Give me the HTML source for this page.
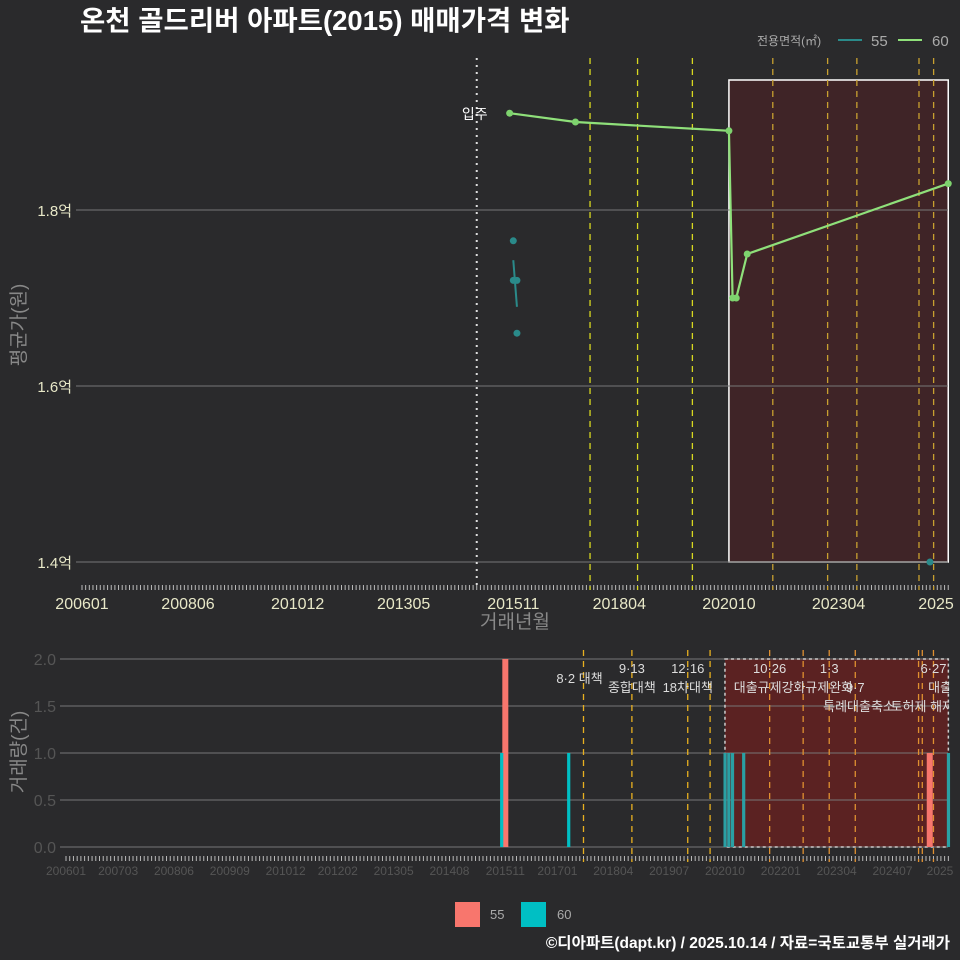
<!DOCTYPE html>
<html><head><meta charset="utf-8"><style>
body{margin:0;background:#2a2a2c;}
svg{display:block;font-family:"Liberation Sans","Noto Sans CJK KR",sans-serif;}
</style></head><body>
<svg id="c" width="960" height="960" viewBox="0 0 960 960">
<defs><clipPath id="bclip"><rect x="0" y="640" width="949" height="90"/></clipPath></defs>
<rect width="960" height="960" fill="#2a2a2c"/>
<text x="80" y="30" font-size="27.5" font-weight="bold" fill="#fff">온천 골드리버 아파트(2015) 매매가격 변화</text>
<g>
<text x="757" y="45" font-size="12" fill="#aaa">전용면적(㎡)</text>
<line x1="838" y1="40" x2="862" y2="40" stroke="#2a8a8a" stroke-width="2"/>
<text x="871" y="46" font-size="15" fill="#aaa">55</text>
<line x1="898" y1="40" x2="922" y2="40" stroke="#8fe07a" stroke-width="2"/>
<text x="932" y="46" font-size="15" fill="#aaa">60</text>
</g>
<g id="top"></g>
<g id="bot"></g>
<g>
<rect x="455" y="902" width="25" height="25" fill="#f8766d"/>
<text x="490" y="919" font-size="13" fill="#aaa">55</text>
<rect x="521" y="902" width="25" height="25" fill="#00bfc4"/>
<text x="557" y="919" font-size="13" fill="#aaa">60</text>
</g>
<text x="950" y="948" text-anchor="end" font-size="15.5" font-weight="bold" fill="#fff">©디아파트(dapt.kr) / 2025.10.14 / 자료=국토교통부 실거래가</text>
</svg>
<script>
// months since 2006-01
const topTickMonths=[0,29,59,88,118,147,177,207,237];
const topTickLabels=["200601","200806","201012","201305","201511","201804","202010","202304","2025"];
const priceTicks=[1.4,1.6,1.8];
const priceTickLabels=["1.4억","1.6억","1.8억"];
const s60Months=[117,135,177,178,179,182,237];
const s60Values=[1.91,1.90,1.89,1.70,1.70,1.75,1.83];
const s55PointMonths=[118,118,119,119,232];
const s55PointValues=[1.765,1.72,1.72,1.66,1.40];
const s55LineMonths=[118,119];
const s55LineValues=[1.743,1.69];
const moveInMonth=108;
const topPolicyMonths=[139,152,167,189,204,212,229,233];
const regionStart=177, regionEnd=237;
const botTickMonths=[0,14,29,44,59,73,88,103,118,132,147,162,177,192,207,222,237];
const botTickLabels=["200601","200703","200806","200909","201012","201202","201305","201408","201511","201701","201804","201907","202010","202201","202304","202407","2025"];
const volTicks=[0,0.5,1,1.5,2];
const volTickLabels=["0.0","0.5","1.0","1.5","2.0"];
const vol55Months=[118,232];
const vol55Values=[2,1];
const vol60Months=[117,135,177,178,179,182,237];
const vol60Values=[1,1,1,1,1,1,1];
const botPolicyMonths=[139,152,167,173,189,198,205,212,229,230,233];
const policyDates=["8·2 대책","9·13","12·16","10·26","1·3","6·27"];
const policyDateMonths=[139,152,167,189,205,233];
const policyNames=["종합대책","18차대책","대출규제강화","규제완화","9·7","대출규제"];
const policyNameMonths=[152,167,189,205,212,238];
const policyNames2=["특례대출축소","토허제 해제"];
const policyNames2Months=[213,230];

const NS="http://www.w3.org/2000/svg";
function mk(p,t,a,txt){const e=document.createElementNS(NS,t);for(const k in a)e.setAttribute(k,a[k]);if(txt!=null)e.textContent=txt;p.appendChild(e);return e;}
const xT=m=>82+m*3.655, yT=v=>562-(v-1.4)*880;
const xB=m=>66+m*3.723, yB=v=>847-v*94;
const T=document.getElementById('top'), B=document.getElementById('bot');

let e;
e=mk(T,'rect',{x:xT(regionStart),y:80,width:xT(regionEnd)-xT(regionStart),height:482,fill:'#3f2427',stroke:'#fff','stroke-width':1.5});


priceTicks.forEach((v,i)=>{
 e=mk(T,'line',{x1:76,x2:948,y1:yT(v),y2:yT(v),stroke:'#777','stroke-width':1});
 
 
 e=mk(T,'text',{x:72,y:yT(v)+6,'text-anchor':'end','font-size':15,fill:'#e8e8c8'},priceTickLabels[i]);
 
 
});
for(let m=0;m<=237;m++){mk(T,'line',{x1:xT(m),x2:xT(m),y1:585,y2:590,stroke:'#bbb','stroke-width':1});}
topTickMonths.forEach((m,i)=>{
 e=mk(T,'text',{x:Math.min(xT(m),936),y:609,'text-anchor':'middle','font-size':16,fill:'#e8e8c8'},topTickLabels[i]);
 
 
});
e=mk(T,'text',{x:515,y:628,'text-anchor':'middle','font-size':19,fill:'#888'},'거래년월');


e=mk(T,'text',{x:0,y:0,transform:'translate(25,325) rotate(-90)','text-anchor':'middle','font-size':19,fill:'#888'},'평균가(원)');


e=mk(T,'line',{x1:xT(moveInMonth),x2:xT(moveInMonth),y1:58,y2:590,stroke:'#ddd','stroke-width':2,'stroke-dasharray':'2 5'});


e=mk(T,'text',{x:xT(moveInMonth)-2,y:119,'text-anchor':'middle','font-size':14,fill:'#fff'},'입주');


topPolicyMonths.forEach(m=>{
 e=mk(T,'line',{x1:xT(m),x2:xT(m),y1:58,y2:590,stroke:m>=regionStart?'#c8a030':'#d8d820','stroke-width':1.3,'stroke-dasharray':'6 5'});
 
 
});
e=mk(T,'polyline',{points:s55LineMonths.map((m,i)=>xT(m)+','+yT(s55LineValues[i])).join(' '),fill:'none',stroke:'#2a8a8a','stroke-width':2});


s55PointMonths.forEach((m,i)=>{
 e=mk(T,'circle',{cx:xT(m),cy:yT(s55PointValues[i]),r:3.5,fill:'#2a8a8a'});
 
 
});
e=mk(T,'polyline',{points:s60Months.map((m,i)=>xT(m)+','+yT(s60Values[i])).join(' '),fill:'none',stroke:'#8fe07a','stroke-width':2.2});


s60Months.forEach((m,i)=>{
 e=mk(T,'circle',{cx:xT(m),cy:yT(s60Values[i]),r:3.5,fill:'#7ed36e'});
 
 
});

e=mk(B,'rect',{x:xB(regionStart),y:yB(2),width:xB(regionEnd)-xB(regionStart),height:yB(0)-yB(2),fill:'#5b2222'});


volTicks.forEach((v,i)=>{
 e=mk(B,'line',{x1:60,x2:948,y1:yB(v),y2:yB(v),stroke:'#777','stroke-width':1});
 
 
 e=mk(B,'text',{x:56,y:yB(v)+6,'text-anchor':'end','font-size':16,fill:'#555'},volTickLabels[i]);
 
 
});
e=mk(B,'rect',{x:xB(regionStart),y:yB(2),width:xB(regionEnd)-xB(regionStart),height:yB(0)-yB(2),fill:'none',stroke:'#ccc','stroke-width':1.5,'stroke-dasharray':'3 3'});


for(let m=0;m<=237;m++){mk(B,'line',{x1:xB(m),x2:xB(m),y1:856,y2:861,stroke:'#bbb','stroke-width':1});}
botTickMonths.forEach((m,i)=>{
 e=mk(B,'text',{x:Math.min(xB(m),940),y:875,'text-anchor':'middle','font-size':12,fill:'#555'},botTickLabels[i]);
 
 
});
e=mk(B,'text',{x:0,y:0,transform:'translate(25,752) rotate(-90)','text-anchor':'middle','font-size':19,fill:'#888'},'거래량(건)');


botPolicyMonths.forEach(m=>{
 e=mk(B,'line',{x1:xB(m),x2:xB(m),y1:650,y2:862,stroke:m>=regionStart?'#e09030':'#e8b020','stroke-width':1.3,'stroke-dasharray':'6 5'});
 
 
});
vol55Months.forEach((m,i)=>{
 e=mk(B,'rect',{x:xB(m)-3,y:yB(vol55Values[i]),width:6,height:yB(0)-yB(vol55Values[i]),fill:'#f8766d'});
 
 
});
vol60Months.forEach((m,i)=>{
 e=mk(B,'rect',{x:xB(m)-1.5,y:yB(vol60Values[i]),width:3.2,height:yB(0)-yB(vol60Values[i]),fill:m>=regionStart?'#2aa0a4':'#00bfc4'});
 
 
});
const L=mk(B,'g',{'clip-path':'url(#bclip)'});
policyDates.forEach((t,i)=>{
 e=mk(L,'text',{x:xB(policyDateMonths[i])+(i==0?-4:0),y:i==0?683:673,'text-anchor':'middle','font-size':13,fill:'#ddd'},t);
 
 
});
policyNames.forEach((t,i)=>{
 e=mk(L,'text',{x:xB(policyNameMonths[i]),y:692,'text-anchor':'middle','font-size':13,fill:'#ddd'},t);
 
 
});
policyNames2.forEach((t,i)=>{
 e=mk(L,'text',{x:xB(policyNames2Months[i]),y:711,'text-anchor':'middle','font-size':13,fill:'#ddd'},t);
 
 
});
</script>
</body></html>
